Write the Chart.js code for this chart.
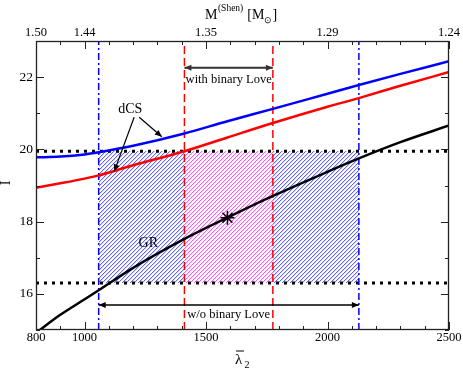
<!DOCTYPE html>
<html>
<head>
<meta charset="utf-8">
<script src="https://cdn.jsdelivr.net/npm/chart.js@4"></script>
<style>
html, body { margin: 0; padding: 0; background: #fff; }
#wrap { width: 463px; height: 370px; }
</style>
</head>
<body>
<div id="wrap"><canvas id="loveChart" width="463" height="370"></canvas></div>
<script>
/* I-bar vs lambda-bar_2 : GR / dCS curves with binary-Love bands */

const lambdaBar = [800, 900, 1000, 1058, 1200, 1411, 1588, 1775, 2000, 2129, 2300, 2500];
const iBarGR = [14.92, 15.42, 15.85, 16.1, 16.72, 17.52, 18.11, 18.71, 19.38, 19.75, 20.2, 20.66];
const iBarDcsBlue = [19.78, 19.8, 19.86, 19.92, 20.1, 20.44, 20.78, 21.12, 21.54, 21.78, 22.09, 22.44];
const iBarDcsRed = [18.94, 19.06, 19.19, 19.28, 19.56, 19.95, 20.33, 20.73, 21.18, 21.42, 21.76, 22.14];

const starPoint = [1588, 18.11];
const woLoveBounds = [1058, 2129];   // blue dash-dot
const withLoveBounds = [1411, 1775]; // red dashed
const iBand = [16.3, 19.95];         // dotted lines

const xTickValues = [800, 1000, 1500, 2000, 2500];
const massTickLabels = ['1.50', '1.44', '1.35', '1.29', '1.24'];
const yTickValues = [16, 18, 20, 22];
const xMinorStep = 100;
const yMinorStep = 1;

const SERIF = "'Liberation Serif', 'Times New Roman', serif";

function pts(ys) {
    return lambdaBar.map((x, i) => ({ x, y: ys[i] }));
}

function vLine(x, color, dash, width) {
    return {
        data: [{ x, y: 15 }, { x, y: 23 }],
        borderColor: color, borderDash: dash, borderWidth: width,
        pointRadius: 0, order: 3
    };
}

function hDotted(y) {
    return {
        data: [{ x: 800, y }, { x: 2500, y }],
        borderColor: '#000', borderDash: [3, 5], borderWidth: 3,
        borderCapStyle: 'butt', pointRadius: 0, order: 4
    };
}

// hatched boxes between the vertical bounds and the dotted band: [from, to, line colour, edge colour]
const hatchBoxes = [
    [woLoveBounds[0], withLoveBounds[0], '#6464ff', '#d8d8ff'],
    [withLoveBounds[0], withLoveBounds[1], '#ff5aff', '#ffd8ff'],
    [withLoveBounds[1], woLoveBounds[1], '#6464ff', '#d8d8ff']
];

const hatching = {
    id: 'hatching',
    beforeDatasetsDraw(chart) {
        const { ctx, scales: { x, y } } = chart;
        const top = Math.round(y.getPixelForValue(iBand[1]));
        const bottom = Math.round(y.getPixelForValue(iBand[0]));
        const gap = 4;
        ctx.save();
        hatchBoxes.forEach(([x0, x1, lineColor, edgeColor]) => {
            const left = Math.round(x.getPixelForValue(x0));
            const right = Math.round(x.getPixelForValue(x1));
            for (let py = top; py < bottom; py++) {
                for (let px = left; px < right; px++) {
                    const k = (px + py) % gap;
                    if (k === 0) {
                        ctx.fillStyle = lineColor;
                        ctx.fillRect(px, py, 1, 1);
                    } else if (k === 1) {
                        ctx.fillStyle = edgeColor;
                        ctx.fillRect(px, py, 1, 1);
                    }
                }
            }
        });
        ctx.restore();
    }
};

function drawArrowHead(ctx, x0, y0, x1, y1, len, half) {
    const a = Math.atan2(y1 - y0, x1 - x0);
    const c = Math.cos(a), s = Math.sin(a);
    ctx.beginPath();
    ctx.moveTo(x1, y1);
    ctx.lineTo(x1 - len * c - half * s, y1 - len * s + half * c);
    ctx.lineTo(x1 - len * c + half * s, y1 - len * s - half * c);
    ctx.closePath();
    ctx.fill();
}

function arrow(ctx, x0, y0, x1, y1, both) {
    ctx.beginPath();
    ctx.moveTo(x0, y0);
    ctx.lineTo(x1, y1);
    ctx.stroke();
    drawArrowHead(ctx, x0, y0, x1, y1, 7, 3);
    if (both) drawArrowHead(ctx, x1, y1, x0, y0, 7, 3);
}

const annotations = {
    id: 'annotations',
    afterDatasetsDraw(chart) {
        const { ctx, scales: { x, y } } = chart;
        ctx.save();
        ctx.fillStyle = '#000';
        ctx.textAlign = 'center';
        ctx.textBaseline = 'middle';

        // with binary Love
        ctx.strokeStyle = '#333';
        ctx.fillStyle = '#333';
        ctx.lineWidth = 2;
        arrow(ctx, x.getPixelForValue(withLoveBounds[0]), y.getPixelForValue(22.26),
            x.getPixelForValue(withLoveBounds[1]), y.getPixelForValue(22.26), true);
        ctx.fillStyle = '#000';
        ctx.font = `12.5px ${SERIF}`;
        ctx.fillText('with binary Love', x.getPixelForValue((withLoveBounds[0] + withLoveBounds[1]) / 2), y.getPixelForValue(21.93));

        // w/o binary Love
        ctx.strokeStyle = '#000';
        ctx.lineWidth = 1.5;
        arrow(ctx, x.getPixelForValue(woLoveBounds[0]), y.getPixelForValue(15.69),
            x.getPixelForValue(woLoveBounds[1]), y.getPixelForValue(15.69), true);
        ctx.fillText('w/o binary Love', x.getPixelForValue((withLoveBounds[0] + withLoveBounds[1]) / 2), y.getPixelForValue(15.43));

        // dCS label + arrows
        ctx.font = `14px ${SERIF}`;
        ctx.fillText('dCS', x.getPixelForValue(1188), y.getPixelForValue(21.11));
        ctx.lineWidth = 1.2;
        arrow(ctx, x.getPixelForValue(1204), y.getPixelForValue(20.89), x.getPixelForValue(1122), y.getPixelForValue(19.39), false);
        arrow(ctx, x.getPixelForValue(1225), y.getPixelForValue(20.89), x.getPixelForValue(1318), y.getPixelForValue(20.35), false);

        ctx.fillText('GR', x.getPixelForValue(1262), y.getPixelForValue(17.41));
        ctx.restore();
    }
};

const frameAndTicks = {
    id: 'frameAndTicks',
    afterDraw(chart) {
        const { ctx, chartArea: a, scales: { x, y } } = chart;
        ctx.save();
        ctx.strokeStyle = '#222';
        ctx.lineWidth = 1;
        ctx.beginPath();
        for (let v = 800; v <= 2500; v += xMinorStep) {
            const px = Math.round(x.getPixelForValue(v)) + 0.5;
            const len = xTickValues.includes(v) ? 8 : 4;
            ctx.moveTo(px, a.bottom); ctx.lineTo(px, a.bottom - len);
            ctx.moveTo(px, a.top); ctx.lineTo(px, a.top + len);
        }
        for (let v = 15; v <= 23; v += yMinorStep) {
            const py = Math.round(y.getPixelForValue(v)) + 0.5;
            const len = yTickValues.includes(v) ? 8 : 4;
            ctx.moveTo(a.left, py); ctx.lineTo(a.left + len, py);
            ctx.moveTo(a.right, py); ctx.lineTo(a.right - len, py);
        }
        ctx.stroke();
        ctx.lineWidth = 1.3;
        ctx.strokeRect(a.left + 0.5, a.top + 0.5, a.right - a.left - 1, a.bottom - a.top - 1);

        // axis titles
        ctx.fillStyle = '#000';
        ctx.textBaseline = 'alphabetic';
        ctx.textAlign = 'left';
        let cx = 205;
        ctx.font = `14px ${SERIF}`;
        ctx.fillText('M', cx, 19);
        cx += ctx.measureText('M').width + 0.5;
        ctx.font = `9.5px ${SERIF}`;
        ctx.fillText('(Shen)', cx, 11);
        cx += ctx.measureText('(Shen)').width + 4;
        ctx.font = `14px ${SERIF}`;
        ctx.fillText('[M', cx, 19);
        cx += ctx.measureText('[M').width;
        ctx.font = `9px ${SERIF}`;
        ctx.fillText('\u2299', cx - 0.5, 23);
        cx += ctx.measureText('\u2299').width;
        ctx.font = `14px ${SERIF}`;
        ctx.fillText(']', cx, 19);

        // lambda-bar_2
        ctx.font = `15px ${SERIF}`;
        ctx.fillText('\u03bb', 235, 364);
        ctx.fillRect(236, 350.5, 8, 1);
        ctx.font = `10px ${SERIF}`;
        ctx.fillText('2', 244.5, 368);

        // I-bar (rotated)
        ctx.save();
        ctx.translate(10, 183);
        ctx.rotate(-Math.PI / 2);
        ctx.textAlign = 'center';
        ctx.font = `14px ${SERIF}`;
        ctx.fillText('I', 0, 0);
        ctx.fillRect(-4, -11.5, 8, 1);
        ctx.restore();
        ctx.restore();
    }
};

const tickFont = { family: SERIF, size: 12.5 };

function fixedTicks(values) {
    return (scale) => { scale.ticks = values.map((value) => ({ value })); };
}

new Chart(document.getElementById('loveChart'), {
    type: 'line',
    data: {
        datasets: [
            {
                data: [{ x: starPoint[0], y: starPoint[1] }],
                showLine: false, pointStyle: 'star', pointRadius: 7,
                borderColor: '#000', backgroundColor: '#000', pointBorderWidth: 1.5, order: 0
            },
            { data: pts(iBarGR), borderColor: '#000', borderWidth: 2.5, pointRadius: 0, cubicInterpolationMode: 'monotone', order: 1 },
            { data: pts(iBarDcsBlue), borderColor: '#0000ff', borderWidth: 2.5, pointRadius: 0, cubicInterpolationMode: 'monotone', order: 1 },
            { data: pts(iBarDcsRed), borderColor: '#ff0000', borderWidth: 2.5, pointRadius: 0, cubicInterpolationMode: 'monotone', order: 1 },
            vLine(woLoveBounds[0], '#0000ff', [7, 3, 2, 3], 1.5),
            vLine(woLoveBounds[1], '#0000ff', [7, 3, 2, 3], 1.5),
            vLine(withLoveBounds[0], '#ff0000', [8, 4], 1.5),
            vLine(withLoveBounds[1], '#ff0000', [8, 4], 1.5),
            hDotted(iBand[0]),
            hDotted(iBand[1])
        ]
    },
    options: {
        responsive: false,
        animation: false,
        devicePixelRatio: 1,
        layout: { padding: { left: 0, right: 14, top: 0, bottom: 0 } },
        plugins: { legend: { display: false }, tooltip: { enabled: false } },
        scales: {
            x: {
                type: 'linear', position: 'bottom', min: 800, max: 2500,
                afterBuildTicks: fixedTicks(xTickValues),
                ticks: { font: tickFont, color: '#000', padding: 0, maxRotation: 0, autoSkip: false, callback: (v) => String(v) },
                grid: { display: false, drawTicks: false },
                border: { display: false },
                afterFit: (s) => { s.height = 40; s.paddingLeft = 0; s.paddingRight = 0; }
            },
            x2: {
                type: 'linear', position: 'top', min: 800, max: 2500,
                afterBuildTicks: fixedTicks(xTickValues),
                ticks: {
                    font: tickFont, color: '#000', padding: 1, maxRotation: 0, autoSkip: false,
                    callback: (v) => massTickLabels[xTickValues.indexOf(v)]
                },
                grid: { display: false, drawTicks: false },
                border: { display: false },
                afterFit: (s) => { s.height = 41; s.paddingLeft = 0; s.paddingRight = 0; }
            },
            y: {
                type: 'linear', position: 'left', min: 15, max: 23,
                afterBuildTicks: fixedTicks(yTickValues),
                ticks: { font: { family: SERIF, size: 13.5 }, color: '#000', padding: 3 },
                grid: { display: false, drawTicks: false },
                border: { display: false },
                afterFit: (s) => { s.width = 36; s.paddingTop = 0; s.paddingBottom = 0; }
            }
        }
    },
    plugins: [hatching, annotations, frameAndTicks]
});
</script>
</body>
</html>
